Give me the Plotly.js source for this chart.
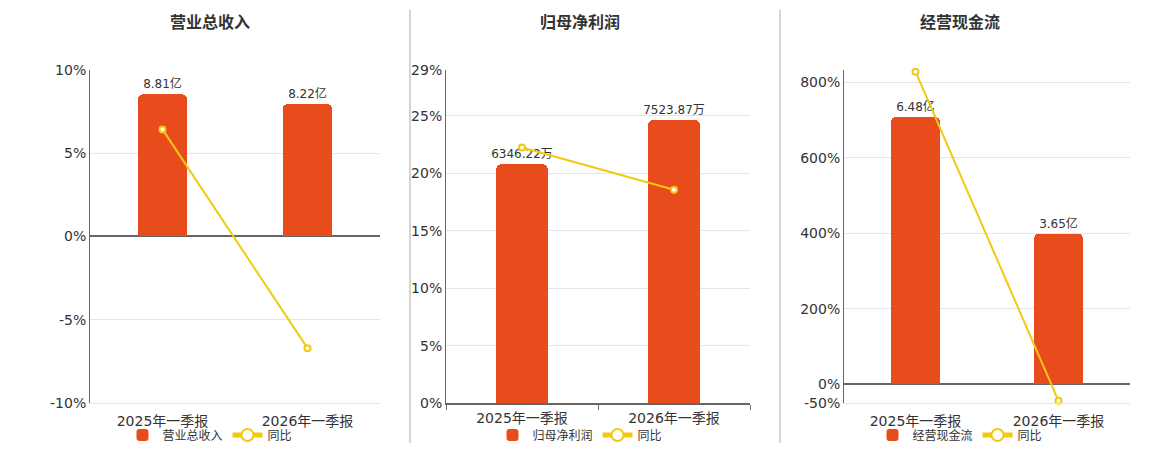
<!DOCTYPE html>
<html>
<head>
<meta charset="utf-8">
<script src="https://cdn.plot.ly/plotly-3.0.1.min.js"></script>
<style>
  body { margin: 0; background: #fff; }
  #chart { width: 1160px; height: 450px; }
</style>
</head>
<body>
<div id="chart"></div>
<script>
// report periods shared by all three panels
var periods = ['2025年一季报', '2026年一季报'];

// 营业总收入 (亿) and yoy %
var revenue = [8.81, 8.22];
var revenueLabels = ['8.81亿', '8.22亿'];
var revenueYoy = [6.42, -6.70];

// 归母净利润 (万) and yoy %
var profit = [6346.22, 7523.87];
var profitLabels = ['6346.22万', '7523.87万'];
var profitYoy = [22.24, 18.56];

// 经营现金流 (亿) and yoy %
var cashflow = [6.48, 3.65];
var cashflowLabels = ['6.48亿', '3.65亿'];
var cashflowYoy = [827.7, -43.67];

var barColor = '#E84C1C';
var lineColor = '#F2C811';
var W = 1160, H = 450;
var font = 'DejaVu Sans, Noto Sans CJK SC, sans-serif';

function px(x) { return x / W; }
function py(y) { return 1 - y / H; }

var panels = [
  { title: '营业总收入', name: '营业总收入', bars: revenue, labels: revenueLabels, yoy: revenueYoy,
    left: 90, right: 380, center: 210, barRange: [-10.34, 10.34], pctRange: [-10, 10],
    tickvals: [-10, -5, 0, 5, 10], ticktext: ['-10%', '-5%', '0%', '5%', '10%'] },
  { title: '归母净利润', name: '归母净利润', bars: profit, labels: profitLabels, yoy: profitYoy,
    left: 446, right: 750, center: 580, barRange: [0, 8862], pctRange: [0, 29],
    tickvals: [0, 5, 10, 15, 20, 25, 29], ticktext: ['0%', '5%', '10%', '15%', '20%', '25%', '29%'] },
  { title: '经营现金流', name: '经营现金流', bars: cashflow, labels: cashflowLabels, yoy: cashflowYoy,
    left: 844, right: 1130, center: 960, barRange: [-0.459, 7.62], pctRange: [-50, 833],
    tickvals: [-50, 0, 200, 400, 600, 800, 833], ticktext: ['-50%', '0%', '200%', '400%', '600%', '800%', ''] }
];

var data = [];
var layout = {
  width: W,
  height: H,
  margin: { l: 0, r: 0, t: 0, b: 0 },
  paper_bgcolor: '#fff',
  plot_bgcolor: 'rgba(0,0,0,0)',
  font: { family: font, color: '#333', size: 14 },
  bargap: 0,
  annotations: [],
  shapes: []
};

panels.forEach(function(p, i) {
  var n = i + 1;
  var xa = n === 1 ? 'x' : 'x' + n;
  var ybar = n === 1 ? 'y' : 'y' + n;
  var ypct = 'y' + (n + 3);
  var legendId = n === 1 ? 'legend' : 'legend' + n;
  // bottom edge is the zero line only in the profit panel
  var zeroAtBottom = p.pctRange[0] === 0;

  data.push({
    type: 'bar',
    name: p.name,
    x: periods,
    y: p.bars,
    text: p.labels,
    textposition: 'outside',
    constraintext: 'none',
    textfont: { size: 12, color: '#333' },
    cliponaxis: false,
    width: 0.34,
    marker: { color: barColor, cornerradius: 5 },
    xaxis: xa,
    yaxis: ybar,
    legend: legendId,
    hoverinfo: 'skip'
  });

  data.push({
    type: 'scatter',
    mode: 'lines+markers',
    name: '同比',
    x: periods,
    y: p.yoy,
    line: { color: lineColor, width: 2 },
    marker: { color: '#fff', size: 6, line: { color: lineColor, width: 2 } },
    cliponaxis: false,
    xaxis: xa,
    yaxis: ypct,
    legend: legendId,
    hoverinfo: 'skip'
  });

  var yDomain = [py(405), py(70)];

  layout[n === 1 ? 'xaxis' : 'xaxis' + n] = {
    domain: [px(p.left), px(p.right)],
    anchor: ybar,
    type: 'category',
    range: [-0.5, 1.5],
    showline: true,
    linecolor: zeroAtBottom ? '#666' : '#e1e5f0',
    linewidth: zeroAtBottom ? 2 : 1,
    showgrid: false,
    zeroline: false,
    ticks: zeroAtBottom ? 'outside' : '',
    tickson: 'boundaries',
    ticklen: 5,
    tickcolor: '#666',
    ticklabelstandoff: zeroAtBottom ? 1 : 5,
    tickfont: { size: 14, color: '#333' },
    fixedrange: true
  };

  layout[n === 1 ? 'yaxis' : 'yaxis' + n] = {
    domain: yDomain,
    anchor: xa,
    range: p.barRange,
    showticklabels: false,
    showgrid: false,
    zeroline: false,
    showline: false,
    fixedrange: true
  };

  layout['yaxis' + (n + 3)] = {
    domain: yDomain,
    anchor: xa,
    overlaying: ybar,
    side: 'left',
    range: p.pctRange,
    tickmode: 'array',
    tickvals: p.tickvals,
    ticktext: p.ticktext,
    tickfont: { size: 14, color: '#333' },
    showline: true,
    linecolor: '#666',
    linewidth: 1,
    showgrid: true,
    gridcolor: '#e1e5f0',
    gridwidth: 1,
    zeroline: true,
    zerolinecolor: '#666',
    zerolinewidth: 2,
    ticks: '',
    fixedrange: true
  };

  layout[legendId] = {
    orientation: 'h',
    x: px(p.center),
    y: py(437),
    xanchor: 'center',
    yanchor: 'middle',
    font: { size: 12, color: '#333' },
    bgcolor: 'rgba(0,0,0,0)',
    itemsizing: 'constant'
  };

  layout.annotations.push({
    text: '<b>' + p.title + '</b>',
    xref: 'paper',
    yref: 'paper',
    x: px(p.center),
    y: py(23),
    xanchor: 'center',
    yanchor: 'middle',
    showarrow: false,
    font: { size: 16, color: '#333' }
  });
});

// panel separators
[410, 780].forEach(function(x) {
  layout.shapes.push({
    type: 'line',
    xref: 'paper',
    yref: 'paper',
    x0: px(x), x1: px(x),
    y0: py(445), y1: py(10),
    line: { color: '#aaa', width: 1 }
  });
});

Plotly.newPlot('chart', data, layout, { displayModeBar: false, staticPlot: true });
</script>
</body>
</html>
